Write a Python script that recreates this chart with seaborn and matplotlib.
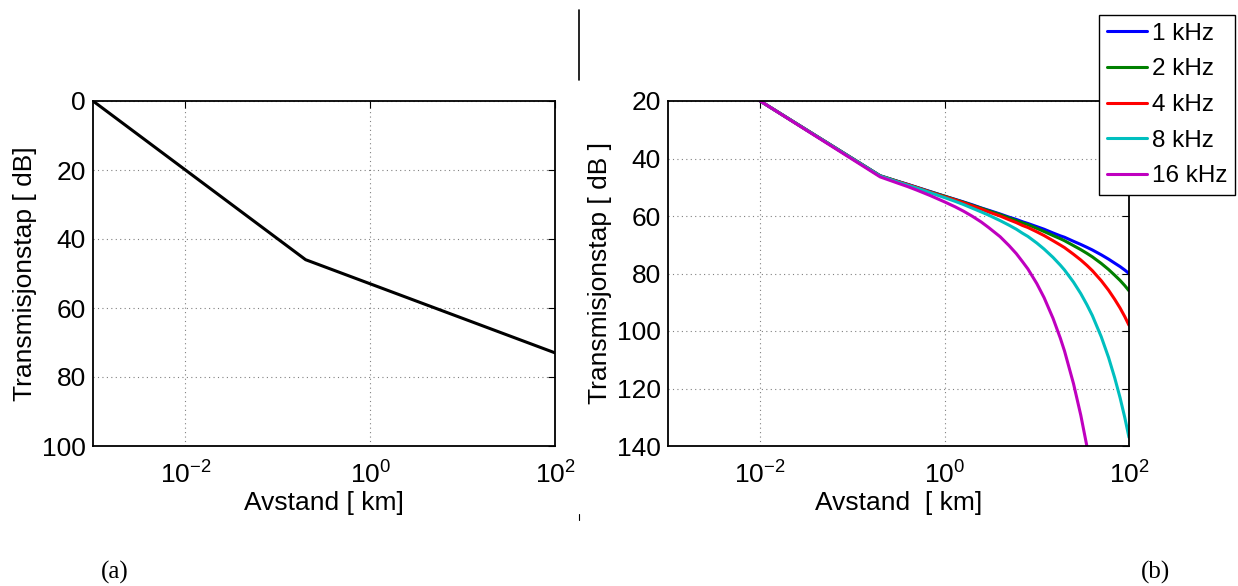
import numpy as np
import pandas as pd
import matplotlib
matplotlib.use("Agg")
import matplotlib.pyplot as plt
import seaborn as sns
from matplotlib.lines import Line2D

# ---------------- data ----------------
dist_a = [0.001, 0.2, 100]
tl_a = [0.0, 46.0, 73.0]

dist_b = [0.01, 0.2, 0.3, 0.4, 0.5, 0.7, 1, 1.3, 1.6, 2, 2.5, 3, 4, 5, 6, 7, 8, 10,
          12, 15, 18, 20, 25, 30, 35, 40, 50, 60, 70, 80, 90, 100]
tl_1k = [20, 46.0, 47.8, 49.0, 50.0, 51.5, 53.1, 54.2, 55.1, 56.1, 57.2, 58.0, 59.3,
         60.4, 61.2, 62.0, 62.6, 63.7, 64.6, 65.9, 66.9, 67.4, 68.8, 69.9, 70.9, 71.8,
         73.5, 75.0, 76.4, 77.6, 78.8, 80.0]
tl_2k = [20, 46.0, 47.8, 49.1, 50.1, 51.6, 53.1, 54.3, 55.2, 56.3, 57.3, 58.2, 59.5,
         60.7, 61.6, 62.4, 63.0, 64.3, 65.4, 66.8, 67.9, 68.6, 70.3, 71.7, 73.0, 74.2,
         76.5, 78.6, 80.6, 82.4, 84.2, 86.0]
tl_4k = [20, 46.1, 47.9, 49.1, 50.1, 51.7, 53.3, 54.4, 55.4, 56.5, 57.6, 58.6, 60.0,
         61.3, 62.3, 63.3, 64.0, 65.5, 66.8, 68.6, 70.1, 71.0, 73.3, 75.3, 77.2, 79.0,
         82.5, 85.8, 89.0, 92.0, 95.0, 98.0]
tl_8k = [20, 46.1, 48.0, 49.3, 50.3, 51.9, 53.6, 54.9, 56.0, 57.3, 58.6, 59.7, 61.6,
         63.2, 64.6, 66.0, 67.1, 69.4, 71.5, 74.4, 77.1, 78.8, 83.0, 87.0, 90.9, 94.6,
         102.0, 109.2, 116.3, 123.2, 130.1, 137.0]
dist_16k = [0.01, 0.2, 0.3, 0.4, 0.5, 0.7, 1, 1.3, 1.6, 2, 2.5, 3, 4, 5, 6, 7, 8, 10,
            12, 15, 18, 20, 25, 30, 35, 40]
tl_16k = [20, 46.4, 48.4, 49.8, 51.0, 52.9, 55.1, 56.8, 58.3, 60.1, 62.1, 64.0, 67.2,
          70.3, 73.1, 75.9, 78.4, 83.5, 88.4, 95.6, 102.5, 107.0, 118.3, 129.3, 140.2,
          151.0]

freq_labels = ["1 kHz", "2 kHz", "4 kHz", "8 kHz", "16 kHz"]
colors = ["#0000ff", "#008000", "#ff0000", "#00bfbf", "#bf00bf"]

rows = []
for lab, d, v in zip(freq_labels, [dist_b] * 4 + [dist_16k],
                     [tl_1k, tl_2k, tl_4k, tl_8k, tl_16k]):
    for x, y in zip(d, v):
        rows.append((lab, x, y))
df_b = pd.DataFrame(rows, columns=["freq", "dist", "tl"])
df_a = pd.DataFrame({"dist": dist_a, "tl": tl_a})

# ---------------- style ----------------
sns.set_style("white")
plt.rcParams["font.family"] = ["Liberation Sans", "DejaVu Sans"]
plt.rcParams["mathtext.fontset"] = "custom"
plt.rcParams["mathtext.rm"] = "Liberation Sans"
plt.rcParams["mathtext.it"] = "Liberation Sans:italic"
for k in ["text.color", "axes.labelcolor", "xtick.color", "ytick.color"]:
    plt.rcParams[k] = "black"

FS = 19
fig = plt.figure(figsize=(12.38, 5.86), dpi=100)
ax1 = fig.add_axes([93 / 1238, 1 - 446 / 586, (555 - 93) / 1238, (446 - 101) / 586])
ax2 = fig.add_axes([668 / 1238, 1 - 446 / 586, (1129 - 668) / 1238, (446 - 101) / 586])

sns.lineplot(data=df_a, x="dist", y="tl", ax=ax1, color="black", linewidth=2.2,
             estimator=None, sort=False)
sns.lineplot(data=df_b, x="dist", y="tl", hue="freq", palette=colors, ax=ax2,
             linewidth=2.2, estimator=None, sort=False, legend=False)

for ax, ylim, yticks in [(ax1, (100, 0), [0, 20, 40, 60, 80, 100]),
                         (ax2, (140, 20), [20, 40, 60, 80, 100, 120, 140])]:
    ax.set_xscale("log")
    ax.set_xlim(1e-3, 1e2)
    ax.set_ylim(*ylim)
    ax.set_xticks([1e-2, 1e0, 1e2])
    ax.set_xticks([], minor=True)
    ax.set_yticks(yticks)
    ax.tick_params(axis="both", which="major", direction="in", length=5, width=0.8,
                   top=True, right=True, labelsize=FS, colors="black", pad=5)
    ax.tick_params(axis="x", pad=11)
    ax.grid(True, which="major", linestyle=(0, (1, 3)), color="#808080", linewidth=0.8)
    for s in ax.spines.values():
        s.set_color("black")
        s.set_linewidth(1.3)
    ax.set_facecolor("white")

ax1.set_xlabel("Avstand [ km]", fontsize=FS, labelpad=2)
ax1.set_ylabel("Transmisjonstap [ dB]", fontsize=FS, labelpad=4)
ax2.set_xlabel("Avstand  [ km]", fontsize=FS, labelpad=2)
ax2.set_ylabel("Transmisjonstap [ dB ]", fontsize=FS, labelpad=4)

handles = [Line2D([0], [0], color=c, lw=2.2) for c in colors]
leg = fig.legend(handles, freq_labels, loc="upper right",
                 bbox_to_anchor=(1235 / 1238, 1 - 15 / 586), fontsize=17.5,
                 frameon=True, fancybox=False, framealpha=1, edgecolor="black",
                 handlelength=1.65, handletextpad=0.2, labelspacing=0.56,
                 borderpad=0.32, borderaxespad=0)
leg.get_frame().set_linewidth(1.0)

# decorative separator marks
fig.add_artist(Line2D([579 / 1238, 579 / 1238], [1 - 10 / 586, 1 - 80 / 586],
                      color="black", lw=1.2))
fig.add_artist(Line2D([579 / 1238, 579 / 1238], [1 - 514 / 586, 1 - 520 / 586],
                      color="black", lw=0.8))

fig.text(115 / 1238, 1 - 572 / 586, "(a)", family=["Liberation Serif", "DejaVu Serif"],
         fontsize=18, ha="center", va="center")
fig.text(1156 / 1238, 1 - 572 / 586, "(b)", family=["Liberation Serif", "DejaVu Serif"],
         fontsize=18, ha="center", va="center")

fig.savefig("out.png", dpi=100, facecolor="white")
